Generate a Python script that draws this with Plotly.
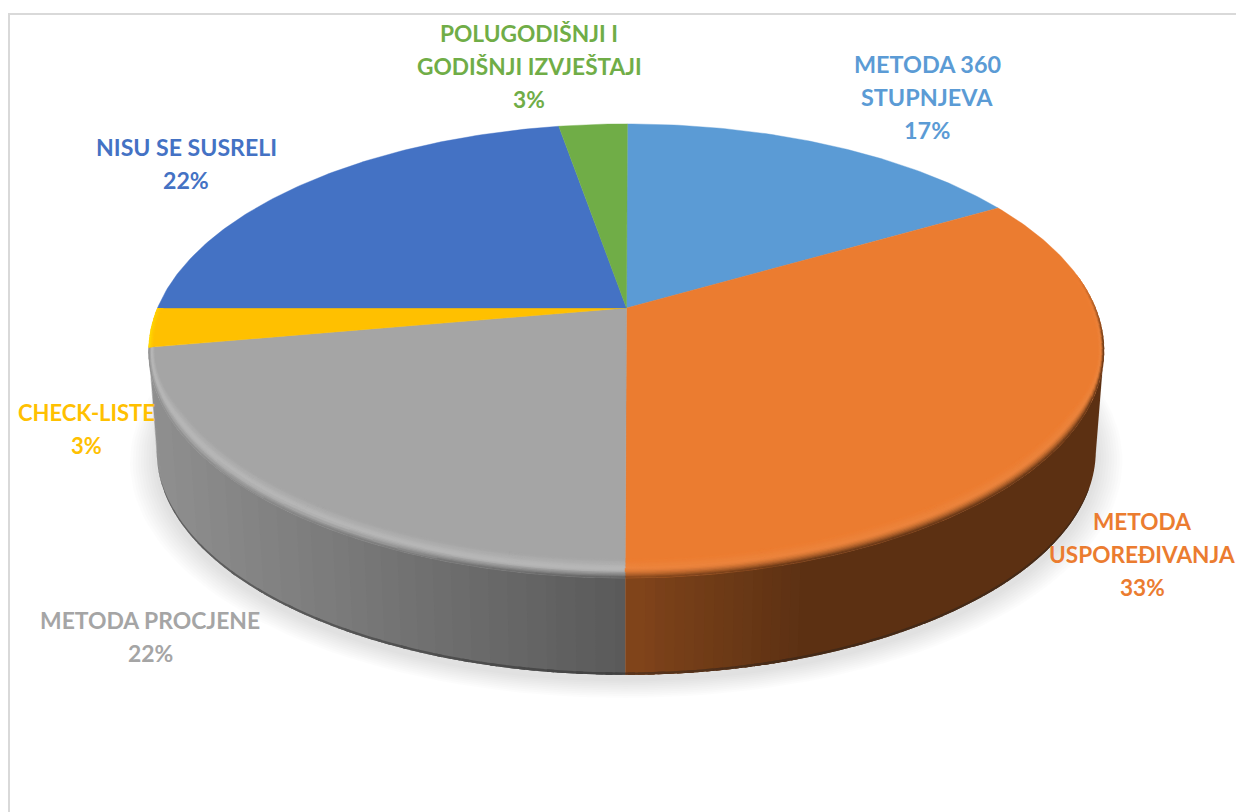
import math
from collections import OrderedDict
import plotly.graph_objects as go

# ---- data (shares of 36 answers; labels show the rounded percentages) ----
categories = ["METODA 360 STUPNJEVA", "METODA USPOREĐIVANJA", "METODA PROCJENE",
              "CHECK-LISTE", "NISU SE SUSRELI", "POLUGODIŠNJI I GODIŠNJI IZVJEŠTAJI"]
values = [6, 12, 8, 1, 8, 1]
percent_labels = ["17%", "33%", "22%", "3%", "22%", "3%"]
colors = ["#5B9BD5", "#EB7C30", "#A5A5A5", "#FFC000", "#4472C4", "#70AD47"]
label_lines = [["METODA 360", "STUPNJEVA"], ["METODA", "USPOREĐIVANJA"], ["METODA PROCJENE"],
               ["CHECK-LISTE"], ["NISU SE SUSRELI"], ["POLUGODIŠNJI I", "GODIŠNJI IZVJEŠTAJI"]]

# ---- layout of the labels (pixels: centre x, first-line y, font size) ----
label_anchor = [(927, 64), (1142, 521), (150, 620), (86, 412), (186, 147), (529, 33)]
label_size = [23.4, 22.6, 22.9, 22.0, 23.1, 22.7]
LINE_PITCH = 33
FONT = "Lato"

# ---- perspective of the disc ----
CX, CY = 626.5, 308.0
C, A, S = 0.189, 218.9, 469.0
SHEAR = 0.005
K_BOTTOM, DY_BOTTOM = 0.983, 101.5
HIGHLIGHT = [0.0, 0.06, 0.20, 0.0, 0.0, 0.0]
BEVEL_DROP, BEVEL_RADIAL = 15.0, 0.012


def project(theta, r=1.0, z=0.0, extra_dy=0.0):
    x, y = r * math.sin(theta), r * math.cos(theta)
    w = 1 + C * y
    k = 1 - (1 - K_BOTTOM) * z
    yy = A * y / w
    return CX + k * S * x / w + SHEAR * yy, CY - k * yy + DY_BOTTOM * z + extra_dy


def h2rgb(h):
    return tuple(int(h[i:i + 2], 16) for i in (1, 3, 5))


def mix(a, b, t):
    return tuple(a[i] + (b[i] - a[i]) * t for i in range(3))


def key(c, step=2):
    r, g, b = [max(0, min(255, int(round(v / step) * step))) for v in c]
    return f"rgb({r},{g},{b})"


def wall_shade(px):
    if px <= CX:
        return 0.545 + 0.325 * min(1, (CX - px) / 477)
    return 0.55 - 0.155 * min(1, (px - CX) / 173)


def wall_color(base, px):
    return tuple(v * wall_shade(px) for v in base)


def add_poly(bucket, col, pts):
    xs, ys = bucket.setdefault(col, ([], []))
    xs.extend(p[0] for p in pts)
    xs.append(pts[0][0])
    xs.append(None)
    ys.extend(p[1] for p in pts)
    ys.append(pts[0][1])
    ys.append(None)


total = sum(values)
edges = [0.0]
for v in values:
    edges.append(edges[-1] + v / total * 2 * math.pi)


def arc(a0, a1, step=math.radians(1.5)):
    n = max(1, int(math.ceil((a1 - a0) / step)))
    return [a0 + (a1 - a0) * i / n for i in range(n + 1)]


fig = go.Figure()


def flush(bucket, lw=0.0):
    for col, (xs, ys) in bucket.items():
        fig.add_trace(go.Scatter(x=xs, y=ys, mode="lines", fill="toself", fillcolor=col,
                                 line=dict(color=col, width=lw), hoverinfo="skip", showlegend=False))


# soft shadow under the disc
ALL = arc(0, 2 * math.pi, math.radians(2))
for i in range(1, 11):
    pts = [project(t, 1 + i * 0.0055, 1, 5) for t in ALL]
    fig.add_trace(go.Scatter(x=[p[0] for p in pts], y=[p[1] for p in pts], mode="lines", fill="toself",
                             fillcolor="rgba(0,0,0,0.013)", line=dict(width=0), hoverinfo="skip", showlegend=False))

# side wall: each slice is swept from its back end towards the front seam so later quads overlap earlier ones
walls = OrderedDict()
walls_edge = OrderedDict()
OVER = math.radians(0.7)
for idx in range(len(values)):
    base = h2rgb(colors[idx])
    ts = arc(edges[idx], edges[idx + 1], math.radians(1.0))
    segs = list(zip(ts[:-1], ts[1:]))
    if edges[idx] >= math.pi:
        segs = segs[::-1]
    for t0, t1 in segs:
        if math.cos((t0 + t1) / 2) > -0.18:
            continue
        if edges[idx] >= math.pi:
            u0, u1 = max(edges[idx], t0 - OVER), t1
        else:
            u0, u1 = t0, min(edges[idx + 1], t1 + OVER)
        a, b = project(u0), project(u1)
        d, c = project(u0, 1, 1), project(u1, 1, 1)
        e, f = project(u0, 1, 0.975), project(u1, 1, 0.975)
        col = wall_color(base, (a[0] + b[0]) / 2)
        add_poly(walls, key(col), [a, b, c, d])
        add_poly(walls_edge, key(mix(col, (30, 30, 30), 0.4)), [e, f, c, d])
flush(walls)
flush(walls_edge)

# top face
for idx, name in enumerate(categories):
    ts = arc(edges[idx], edges[idx + 1], math.radians(0.75))
    pts = [project(t) for t in ts]
    xs = [CX] + [p[0] for p in pts] + [CX]
    ys = [CY] + [p[1] for p in pts] + [CY]
    fig.add_trace(go.Scatter(x=xs, y=ys, mode="lines", fill="toself", fillcolor=colors[idx],
                             line=dict(color=colors[idx], width=0.4), name=name,
                             hovertemplate=f"{name}: {percent_labels[idx]}<extra></extra>", showlegend=False))


def band_point(t, u):
    """Point on the bevel band; the vertical drop fades out before the side tangents of the disc."""
    fade = max(0.0, min(1.0, (-0.2 - math.cos(t)) / 0.3))
    return project(t, 1 - BEVEL_RADIAL * (1 - u), 0, -BEVEL_DROP * fade * (1 - u))


# bevel: a band that follows the near rim, dropping from light to the wall colour
bevel = OrderedDict()
N = 14
for j in range(N):
    u0, u1 = j / N, (j + 1) / N
    um = (u0 + u1) / 2
    for idx in range(len(values)):
        base = h2rgb(colors[idx])
        is_yellow = colors[idx] == "#FFC000"
        light = (255, 218, 0) if is_yellow else mix(base, (255, 255, 255), HIGHLIGHT[idx])
        ts = arc(edges[idx], edges[idx + 1], math.radians(1.5))
        for t0, t1 in zip(ts[:-1], ts[1:]):
            tm = (t0 + t1) / 2
            if math.cos(tm) > 0 and tm > math.pi:
                continue
            w = max(0.0, min(1.0, (0.15 - math.cos(tm)) / 0.3))
            if w <= 0:
                continue
            if is_yellow:
                col = mix(base, light, um ** 2)
            else:
                wall = wall_color(base, project(tm)[0])
                if um < 0.5:
                    col = mix(base, light, um / 0.5)
                else:
                    col = mix(light, wall, ((um - 0.5) / 0.5) ** 1.6)
            col = mix(base, col, w)
            pts = [band_point(t0, u0), band_point(t1, u0), band_point(t1, u1), band_point(t0, u1)]
            add_poly(bevel, key(col), pts)
flush(bevel, 0.7)

# labels
annotations = []
for idx, lines in enumerate(label_lines):
    cx, y0 = label_anchor[idx]
    rows = lines + [percent_labels[idx]]
    for i, txt in enumerate(rows):
        annotations.append(dict(x=cx, y=y0 + i * LINE_PITCH, xref="x", yref="y", text=f"<b>{txt}</b>",
                                showarrow=False, xanchor="center", yanchor="middle",
                                font=dict(family=FONT, size=label_size[idx], color=colors[idx])))

FRAME = "#D9D9D9"
fig.update_layout(
    width=1236, height=812, margin=dict(l=0, r=0, t=0, b=0),
    paper_bgcolor="white", plot_bgcolor="white", showlegend=False,
    xaxis=dict(range=[0, 1236], visible=False, fixedrange=True),
    yaxis=dict(range=[812, 0], visible=False, fixedrange=True),
    annotations=annotations,
    shapes=[
        dict(type="line", x0=9, x1=9, y0=13, y1=812, xref="x", yref="y", line=dict(color=FRAME, width=2), layer="below"),
        dict(type="line", x0=8, x1=1236, y0=14, y1=14, xref="x", yref="y", line=dict(color=FRAME, width=2), layer="below"),
    ],
)

fig.write_html("out.html", config={"displayModeBar": False},
               post_script="document.body.style.margin='0';document.documentElement.style.overflow='hidden';")
